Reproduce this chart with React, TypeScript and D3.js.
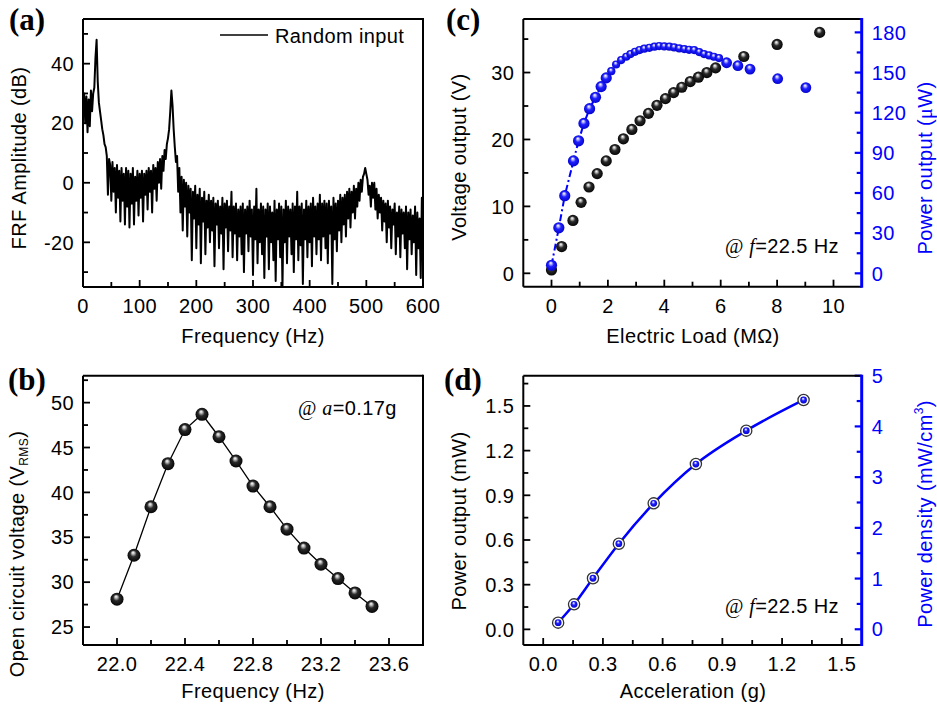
import React from "react";
import * as d3 from "d3";

// ---------- Panel (a): FRF amplitude vs frequency (2 Hz resolution) ----------
const frfFreqStep = 2;
const frfAmplitude = [
  22, 30, 20, 29, 17, 28, 19, 31, 24, 30,
  32, 42, 48, 34, 27, 24, 21, 18, 16, 13,
  12, 9, -4, 8, 6, -6, 7, -3, 5, -10,
  6, -5, 4, -13, 5, -6, 3, -14, 5, -8,
  4, -15, 3, -7, 5, -14, 2, -6, 4, -11,
  3, -5, 4, -13, 3, -4, 4, -9, 5, -3,
  4, -10, 6, -2, 5, -6, 7, 0, 8, -2,
  9, 4, 11, 8, 13, 15, 18, 24, 31, 26,
  18, 12, 7, 9, -3, 5, -10, 2, -16, 1,
  -8, 0, -18, -1, -10, -2, -26, -3, -12, -1,
  -22, -4, -14, -2, -27, -5, -13, -3, -24, -6,
  -15, -4, -20, -6, -16, -5, -28, -7, -14, -6,
  -22, -8, -17, -5, -29, -7, -15, -6, -23, -8,
  -16, -3, -25, -8, -17, -7, -26, -9, -18, -8,
  -24, -7, -30, -9, -17, -8, -23, -6, -18, -9,
  -31, -8, -19, -2, -27, -9, -20, -7, -24, -8,
  -32, -9, -18, -7, -29, -8, -20, -10, -26, -6,
  -33, -9, -19, -7, -25, -8, -35, -9, -20, -6,
  -27, -8, -18, -9, -24, -7, -30, -8, -19, -3,
  -26, -8, -21, -7, -34, -9, -19, -6, -25, -8,
  -20, -7, -28, -5, -18, -8, -24, -7, -19, -4,
  -26, -7, -18, -6, -22, -7, -27, -6, -17, -8,
  -34, -5, -19, -7, -23, -6, -16, -4, -20, -5,
  -14, -4, -18, -3, -12, -2, -15, -3, -10, -1,
  -12, -2, -8, 0, -6, 1, -3, 2, 3, 5,
  3, 1, -4, -1, -8, 0, -5, 0, -9, -2,
  -12, -4, -10, -5, -16, -6, -13, -7, -20, -6,
  -15, -8, -22, -9, -14, -7, -24, -10, -18, -8,
  -25, -9, -17, -10, -22, -8, -29, -10, -19, -9,
  -24, -11, -20, -8, -31, -10, -22, -12, -32, -5,
  -25,
];
const aXMajor = [0, 100, 200, 300, 400, 500, 600];
const aXMinor = [50, 150, 250, 350, 450, 550];
const aYMajor = [-20, 0, 20, 40];
const aYMinor = [-30, -10, 10, 30, 50];

// ---------- Panel (b): open circuit voltage vs frequency ----------
const bFreq = [22.0, 22.1, 22.2, 22.3, 22.4, 22.5, 22.6, 22.7, 22.8, 22.9, 23.0, 23.1, 23.2, 23.3, 23.4, 23.5];
const bVoltage = [28.1, 33.0, 38.4, 43.2, 47.0, 48.7, 46.2, 43.5, 40.7, 38.4, 35.9, 33.8, 32.0, 30.4, 28.8, 27.3];
const bXMajor = [22.0, 22.4, 22.8, 23.2, 23.6];
const bXMinor = [22.2, 22.6, 23.0, 23.4];
const bYMajor = [25, 30, 35, 40, 45, 50];
const bYMinor = [27.5, 32.5, 37.5, 42.5, 47.5, 52.5];

// ---------- Panel (c): voltage / power vs electric load ----------
const cVoltLoad = [0.0, 0.36, 0.76, 1.05, 1.33, 1.62, 1.94, 2.25, 2.55, 2.85, 3.14, 3.44, 3.74, 4.04, 4.33, 4.62, 4.92, 5.21, 5.51, 5.82, 6.82, 8.0, 9.51];
const cVoltage = [0.5, 4.0, 7.9, 10.6, 12.9, 14.9, 16.8, 18.5, 20.1, 21.5, 22.8, 23.9, 25.1, 26.1, 27.0, 27.8, 28.65, 29.3, 30.0, 30.7, 32.4, 34.2, 36.0];
const cPowLoadCoarse = [0.0, 0.26, 0.47, 0.78, 0.96, 1.15, 1.35, 1.56, 1.76, 1.94];
const cPowerCoarse = [6, 34, 58, 84, 99, 112, 123, 131.5, 139.5, 146];
const cPowLoadFine = [2.12, 2.29, 2.47, 2.65, 2.8, 2.96, 3.12, 3.29, 3.47, 3.65, 3.82, 4.0, 4.18, 4.35, 4.53, 4.71, 4.88, 5.06, 5.24, 5.41, 5.59, 5.76, 5.94];
const cPowerFine = [151, 156, 159.3, 161.8, 163.8, 165.5, 166.8, 167.8, 168.5, 169.3, 169.8, 169.5, 169.3, 168.8, 168, 167.5, 167, 166.8, 165.3, 163.8, 162.8, 161.8, 160.8];
const cPowLoadTail = [6.21, 6.61, 7.04, 8.02, 9.02];
const cPowerTail = [157.3, 155.1, 152.6, 145.4, 138.7];
const cXMajor = [0, 2, 4, 6, 8, 10];
const cXMinor = [1, 3, 5, 7, 9];
const cYMajor = [0, 10, 20, 30];
const cYMinor = [5, 15, 25, 35];
const cRMajor = [0, 30, 60, 90, 120, 150, 180];
const cRMinor = [15, 45, 75, 105, 135, 165];

// ---------- Panel (d): power vs acceleration ----------
const dAccel = [0.075, 0.155, 0.25, 0.38, 0.555, 0.767, 1.02, 1.308];
const dPower = [0.045, 0.168, 0.343, 0.575, 0.846, 1.11, 1.334, 1.54];
const dXMajor = [0, 0.3, 0.6, 0.9, 1.2, 1.5];
const dXMinor = [0.15, 0.45, 0.75, 1.05, 1.35];
const dYMajor = [0, 0.3, 0.6, 0.9, 1.2, 1.5];
const dYMinor = [0.15, 0.45, 0.75, 1.05, 1.35, 1.65];
const dRMajor = [0, 1, 2, 3, 4, 5];
const dRMinor = [0.5, 1.5, 2.5, 3.5, 4.5];

const FONT = "Arial, 'Liberation Sans', Helvetica, sans-serif";
const SERIF = "'Times New Roman', 'Liberation Serif', serif";
const BLUE = "#0000ff";
const FS = 20;
const LS = 0.4;

type AxesProps = {
  x: any; y: any;
  xMajor: number[]; xMinor: number[]; yMajor: number[]; yMinor: number[];
  xFmt: (v: number) => string; yFmt: (v: number) => string;
  right?: { scale: any; major: number[]; minor: number[]; fmt: (v: number) => string };
};

function Axes({ x, y, xMajor, xMinor, yMajor, yMinor, xFmt, yFmt, right }: AxesProps) {
  const [xl, xr] = x.range();
  const [yb, yt] = y.range();
  const ML = 7, MN = 5, TW = 1.8;
  const lab = { fontFamily: FONT, fontSize: FS, letterSpacing: LS, fill: "#000" } as any;
  return (
    <g>
      {xMajor.map((v) => (
        <line key={"xM" + v} x1={x(v)} x2={x(v)} y1={yb} y2={yb - ML} stroke="#000" strokeWidth={TW} />
      ))}
      {xMinor.map((v) => (
        <line key={"xm" + v} x1={x(v)} x2={x(v)} y1={yb} y2={yb - MN} stroke="#000" strokeWidth={TW} />
      ))}
      {yMajor.map((v) => (
        <line key={"yM" + v} x1={xl} x2={xl + ML} y1={y(v)} y2={y(v)} stroke="#000" strokeWidth={TW} />
      ))}
      {yMinor.map((v) => (
        <line key={"ym" + v} x1={xl} x2={xl + MN} y1={y(v)} y2={y(v)} stroke="#000" strokeWidth={TW} />
      ))}
      {xMajor.map((v) => (
        <text key={"xt" + v} x={x(v)} y={yb + 26} textAnchor="middle" {...lab}>{xFmt(v)}</text>
      ))}
      {yMajor.map((v) => (
        <text key={"yt" + v} x={xl - 9} y={y(v)} dy="0.36em" textAnchor="end" {...lab}>{yFmt(v)}</text>
      ))}
      {right && right.major.map((v) => (
        <line key={"rM" + v} x1={xr} x2={xr - ML} y1={right.scale(v)} y2={right.scale(v)} stroke={BLUE} strokeWidth={2.2} />
      ))}
      {right && right.minor.map((v) => (
        <line key={"rm" + v} x1={xr} x2={xr - MN} y1={right.scale(v)} y2={right.scale(v)} stroke={BLUE} strokeWidth={2.2} />
      ))}
      {right && right.major.map((v) => (
        <text key={"rt" + v} x={xr + 10} y={right.scale(v)} dy="0.36em" textAnchor="start" {...lab} fill={BLUE}>{right.fmt(v)}</text>
      ))}
      <line x1={xl} x2={xr} y1={yt} y2={yt} stroke="#000" strokeWidth={2} />
      <line x1={xl} x2={xr} y1={yb} y2={yb} stroke="#000" strokeWidth={2} />
      <line x1={xl} x2={xl} y1={yt} y2={yb} stroke="#000" strokeWidth={2} />
      <line x1={xr} x2={xr} y1={yt - 1} y2={yb + 1} stroke={right ? BLUE : "#000"} strokeWidth={right ? 3 : 2} />
    </g>
  );
}

const fmtInt = (v: number) => String(v);
const fmt1 = (v: number) => v.toFixed(1);

function VTitle({ x, y, color = "#000", children }: any) {
  return (
    <text transform={`translate(${x},${y}) rotate(-90)`} textAnchor="middle" fontFamily={FONT} fontSize={FS} letterSpacing={LS} fill={color}>
      {children}
    </text>
  );
}

function PanelLabel({ x, y, t }: any) {
  return (
    <text x={x} y={y} fontFamily={SERIF} fontWeight="bold" fontSize={31} fill="#000">{t}</text>
  );
}

export default function App() {
  const ax = d3.scaleLinear().domain([0, 600]).range([83, 423]);
  const ay = d3.scaleLinear().domain([-35, 55]).range([287, 19]);
  const bx = d3.scaleLinear().domain([21.8, 23.8]).range([83, 423]);
  const by = d3.scaleLinear().domain([23, 53]).range([645, 375.7]);
  const cx = d3.scaleLinear().domain([-1, 11]).range([523.3, 861.7]);
  const cy = d3.scaleLinear().domain([-2, 38]).range([286.7, 19]);
  const cyR = d3.scaleLinear().domain([-10, 190]).range([286.7, 19]);
  const dx = d3.scaleLinear().domain([-0.1, 1.6]).range([523.3, 861.7]);
  const dy = d3.scaleLinear().domain([-0.105, 1.703]).range([645, 375.7]);
  const dyR = d3.scaleLinear().domain([-0.31, 5]).range([645, 375.7]);

  const frfLine = d3
    .line<number>()
    .x((_, i) => ax(i * frfFreqStep))
    .y((v) => ay(v));

  const bLine = d3
    .line<number>()
    .x((_, i) => bx(bFreq[i]))
    .y((v) => by(v));

  const cPowConnected = [
    ...cPowLoadCoarse.map((l, i) => [l, cPowerCoarse[i]]),
    ...cPowLoadFine.map((l, i) => [l, cPowerFine[i]]),
  ];
  const cPowLine = d3
    .line<number[]>()
    .x((d) => cx(d[0]))
    .y((d) => cyR(d[1]));

  const dLine = d3
    .line<number>()
    .x((_, i) => dx(dAccel[i]))
    .y((v) => dy(v))
    .curve(d3.curveMonotoneX);

  const txt = { fontFamily: FONT, fontSize: FS, letterSpacing: LS, fill: "#000" } as any;

  return (
    <svg width={937} height={709} style={{ position: "absolute", left: 0, top: 0, background: "#fff" }}>
      <defs>
        <radialGradient id="gBlack" cx="50%" cy="50%" r="55%" fx="42%" fy="28%">
          <stop offset="0%" stopColor="#ffffff" />
          <stop offset="18%" stopColor="#bdbdbd" />
          <stop offset="45%" stopColor="#2a2a2a" />
          <stop offset="100%" stopColor="#000000" />
        </radialGradient>
        <radialGradient id="gBlue" cx="50%" cy="50%" r="55%" fx="42%" fy="28%">
          <stop offset="0%" stopColor="#ffffff" />
          <stop offset="18%" stopColor="#b8b8ff" />
          <stop offset="45%" stopColor="#2020ff" />
          <stop offset="100%" stopColor="#0000c8" />
        </radialGradient>
        <clipPath id="clipA">
          <rect x={83} y={19} width={340} height={268} />
        </clipPath>
      </defs>
      <rect x={0} y={0} width={937} height={709} fill="#fff" />

      {/* ================= Panel (a) ================= */}
      <g clipPath="url(#clipA)">
        <path d={frfLine(frfAmplitude) || ""} fill="none" stroke="#000" strokeWidth={2} strokeLinejoin="round" />
      </g>
      <Axes x={ax} y={ay} xMajor={aXMajor} xMinor={aXMinor} yMajor={aYMajor} yMinor={aYMinor} xFmt={fmtInt} yFmt={fmtInt} />
      <line x1={220} x2={268} y1={35} y2={35} stroke="#000" strokeWidth={1.6} />
      <text x={275} y={42.5} {...txt}>Random input</text>
      <text x={253} y={343} textAnchor="middle" {...txt}>Frequency (Hz)</text>
      <VTitle x={26} y={158}>FRF Amplitude (dB)</VTitle>
      <PanelLabel x={9} y={30} t="(a)" />

      {/* ================= Panel (b) ================= */}
      <path d={bLine(bVoltage) || ""} fill="none" stroke="#000" strokeWidth={1.3} />
      {bVoltage.map((v, i) => (
        <circle key={"b" + i} cx={bx(bFreq[i])} cy={by(v)} r={6.5} fill="url(#gBlack)" />
      ))}
      <Axes x={bx} y={by} xMajor={bXMajor} xMinor={bXMinor} yMajor={bYMajor} yMinor={bYMinor} xFmt={fmt1} yFmt={fmtInt} />
      <text x={298} y={415} {...txt}>
        <tspan fontFamily={SERIF}>@ </tspan>
        <tspan fontFamily={SERIF} fontStyle="italic">a</tspan>
        <tspan>=0.17g</tspan>
      </text>
      <text x={253} y={698} textAnchor="middle" {...txt}>Frequency (Hz)</text>
      <VTitle x={24} y={554}>
        Open circuit voltage (V<tspan fontSize={12} dy={4}>RMS</tspan><tspan dy={-4}>)</tspan>
      </VTitle>
      <PanelLabel x={8} y={390} t="(b)" />

      {/* ================= Panel (c) ================= */}
      {cVoltage.map((v, i) => (
        <circle key={"cv" + i} cx={cx(cVoltLoad[i])} cy={cy(v)} r={5.6} fill="url(#gBlack)" />
      ))}
      <path d={cPowLine(cPowConnected) || ""} fill="none" stroke={BLUE} strokeWidth={2} strokeDasharray="7 3 2 3" />
      {cPowerCoarse.map((v, i) => (
        <circle key={"cpc" + i} cx={cx(cPowLoadCoarse[i])} cy={cyR(v)} r={5.6} fill="url(#gBlue)" />
      ))}
      {cPowerFine.map((v, i) => (
        <circle key={"cpf" + i} cx={cx(cPowLoadFine[i])} cy={cyR(v)} r={4.1} fill="url(#gBlue)" />
      ))}
      {cPowerTail.map((v, i) => (
        <circle key={"cpt" + i} cx={cx(cPowLoadTail[i])} cy={cyR(v)} r={5.4} fill="url(#gBlue)" />
      ))}
      <Axes x={cx} y={cy} xMajor={cXMajor} xMinor={cXMinor} yMajor={cYMajor} yMinor={cYMinor} xFmt={fmtInt} yFmt={fmtInt}
        right={{ scale: cyR, major: cRMajor, minor: cRMinor, fmt: fmtInt }} />
      <text x={725} y={253} {...txt}>
        <tspan fontFamily={SERIF}>@ </tspan>
        <tspan fontFamily={SERIF} fontStyle="italic">f</tspan>
        <tspan>=22.5 Hz</tspan>
      </text>
      <text x={693} y={343} textAnchor="middle" {...txt}>Electric Load (MΩ)</text>
      <VTitle x={466} y={157}>Voltage output (V)</VTitle>
      <VTitle x={932} y={168} color={BLUE}>
        Power output (<tspan fontFamily={SERIF}>μ</tspan>W)
      </VTitle>
      <PanelLabel x={446} y={30} t="(c)" />

      {/* ================= Panel (d) ================= */}
      <path d={dLine(dPower) || ""} fill="none" stroke={BLUE} strokeWidth={2.5} />
      {dPower.map((v, i) => (
        <g key={"d" + i}>
          <circle cx={dx(dAccel[i])} cy={dy(v)} r={5.6} fill="#fff" stroke="#333" strokeWidth={1.3} />
          <circle cx={dx(dAccel[i])} cy={dy(v)} r={3.4} fill="url(#gBlue)" />
        </g>
      ))}
      <Axes x={dx} y={dy} xMajor={dXMajor} xMinor={dXMinor} yMajor={dYMajor} yMinor={dYMinor} xFmt={fmt1} yFmt={fmt1}
        right={{ scale: dyR, major: dRMajor, minor: dRMinor, fmt: fmtInt }} />
      <text x={725} y={613} {...txt}>
        <tspan fontFamily={SERIF}>@ </tspan>
        <tspan fontFamily={SERIF} fontStyle="italic">f</tspan>
        <tspan>=22.5 Hz</tspan>
      </text>
      <text x={693} y={698} textAnchor="middle" {...txt}>Acceleration (g)</text>
      <VTitle x={466} y={521}>Power output (mW)</VTitle>
      <VTitle x={932} y={514} color={BLUE}>
        Power density (mW/cm<tspan fontSize={12} dy={-9}>3</tspan><tspan dy={9}>)</tspan>
      </VTitle>
      <PanelLabel x={444} y={390} t="(d)" />
    </svg>
  );
}
